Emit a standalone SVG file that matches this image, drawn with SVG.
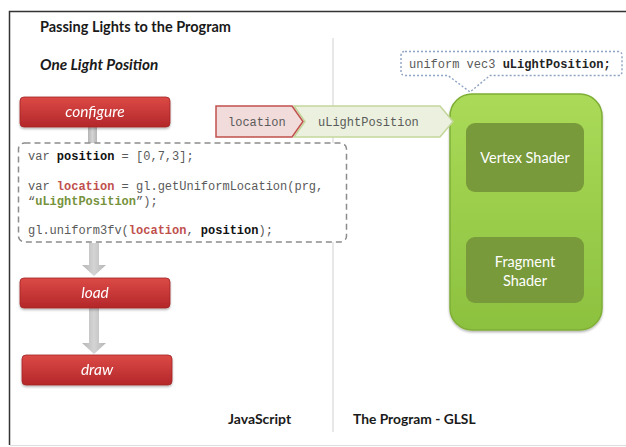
<svg xmlns="http://www.w3.org/2000/svg" width="626" height="447" viewBox="0 0 626 447">
<defs>
<linearGradient id="red" x1="0" y1="0" x2="0" y2="1">
<stop offset="0" stop-color="#dc4a46"/><stop offset="1" stop-color="#b3272a"/>
</linearGradient>
<linearGradient id="gray" x1="0" y1="0" x2="1" y2="0">
<stop offset="0" stop-color="#b5b5b5"/><stop offset="0.5" stop-color="#d4d4d4"/><stop offset="1" stop-color="#b5b5b5"/>
</linearGradient>
<linearGradient id="lime" x1="0" y1="0" x2="0" y2="1">
<stop offset="0" stop-color="#aada58"/><stop offset="1" stop-color="#8cc13f"/>
</linearGradient>
<linearGradient id="vf" x1="0" y1="0" x2="0" y2="1">
<stop offset="0" stop-color="#5a5a5a"/><stop offset="1" stop-color="#c8c8c8"/>
</linearGradient>
<filter id="sh" x="-10%" y="-10%" width="120%" height="130%">
<feDropShadow dx="0" dy="1.5" stdDeviation="1.2" flood-color="#000" flood-opacity="0.3"/>
</filter>
</defs>
<style>
.h{font-family:Lato,"Open Sans","Liberation Sans",sans-serif;font-weight:bold;fill:#1a1a1a}
.step rect{fill:url(#red);stroke:#a32325;stroke-width:0.8}
.step text{font-family:Lato,"Open Sans","Liberation Sans",sans-serif;font-style:italic;font-size:15.5px;fill:#fff;text-anchor:middle}
.code{font-family:"Liberation Mono","Courier New",monospace;font-size:12px;fill:#5a5a5a}
.b{font-weight:bold}
.inner rect{fill:#789a3b}
.inner text{font-family:Lato,"Open Sans","Liberation Sans",sans-serif;font-size:14.5px;fill:#fff;text-anchor:middle}
.arr{fill:url(#gray)}
</style>
<rect width="626" height="447" fill="#fff"/>
<!-- frame -->
<path d="M9.5 445 V11.5 H626" fill="none" stroke="#333" stroke-width="1.5"/>
<line x1="10" y1="445.5" x2="626" y2="445.5" stroke="#ddd" stroke-width="1"/>
<line x1="333" y1="38" x2="333" y2="432" stroke="#d9d9d9" stroke-width="1.2"/>

<text class="h" x="40" y="32" font-size="14.5">Passing Lights to the Program</text>
<text class="h" x="40" y="70" font-size="15.3" font-style="italic">One Light Position</text>
<text class="h" x="228" y="424" font-size="14">JavaScript</text>
<text class="h" x="353" y="424" font-size="13.8">The Program - GLSL</text>

<g id="connectors">
<rect class="arr" x="88" y="127" width="9" height="16"/>
<path class="arr" d="M89 243 H99 V265 H106 L94 276 L82 265 H89 Z"/>
<path class="arr" d="M89 307 H99 V343 H106 L94 354 L82 343 H89 Z"/>
<path d="M518 192 H527 V230 L524 237 H521 L518 230 Z" fill="url(#vf)"/>
</g>

<g id="configure" class="step" filter="url(#sh)">
<rect x="20" y="97" width="150" height="30" rx="4"/>
<text x="95" y="117">configure</text>
</g>

<g id="code">
<rect x="18.5" y="143" width="328" height="99" rx="6" fill="#fff" stroke="#8c8c8c" stroke-width="1.5" stroke-dasharray="6 4"/>
<text class="code" x="28" y="160">var <tspan class="b" fill="#111">position</tspan> = [0,7,3];</text>
<text class="code" x="28" y="190">var <tspan class="b" fill="#c0504d">location</tspan> = gl.getUniformLocation(prg,</text>
<text class="code" x="28" y="205">“<tspan class="b" fill="#76923c">uLightPosition</tspan>”);</text>
<text class="code" x="28" y="234">gl.uniform3fv(<tspan class="b" fill="#c0504d">location</tspan>, <tspan class="b" fill="#111">position</tspan>);</text>
</g>

<g id="load" class="step" filter="url(#sh)">
<rect x="20" y="278" width="150" height="30" rx="4"/>
<text x="95" y="298">load</text>
</g>

<g id="draw" class="step" filter="url(#sh)">
<rect x="22" y="355" width="150" height="30" rx="4"/>
<text x="97" y="375">draw</text>
</g>

<g id="program">
<rect x="450" y="94" width="152" height="236" rx="22" fill="url(#lime)" stroke="#7fae36" stroke-width="1.5" filter="url(#sh)"/>
</g>

<g id="vertex-shader" class="inner">
<rect x="466" y="123" width="118" height="69" rx="9"/>
<text x="525" y="163">Vertex Shader</text>
</g>

<g id="fragment-shader" class="inner">
<rect x="466" y="237" width="118" height="66" rx="9"/>
<text x="525" y="267">Fragment</text>
<text x="525" y="286">Shader</text>
</g>

<g id="uniform-name">
<path d="M294 106 H440 L453 121.5 L440 137 H294 L305 121.5 Z" fill="#ebf1de" stroke="#c3d69b" stroke-width="1.5"/>
<text class="code" x="318" y="126">uLightPosition</text>
</g>

<g id="location">
<path d="M216 106 H292 L303 121.5 L292 137 H216 Z" fill="#f2dcdb" stroke="#c0504d" stroke-width="1.5"/>
<text class="code" x="228" y="126">location</text>
</g>

<g id="uniform-decl">
<path d="M405 51.5 H618 Q622 51.5 622 55.5 V71.5 Q622 75.5 618 75.5 H490 L470 92 L448 75.5 H405 Q401 75.5 401 71.5 V55.5 Q401 51.5 405 51.5 Z" fill="#fff" stroke="#8ea3c2" stroke-width="1.4" stroke-dasharray="2 2"/>
<text class="code" x="409" y="68">uniform vec3 <tspan class="b" fill="#222">uLightPosition;</tspan></text>
</g>
</svg>
